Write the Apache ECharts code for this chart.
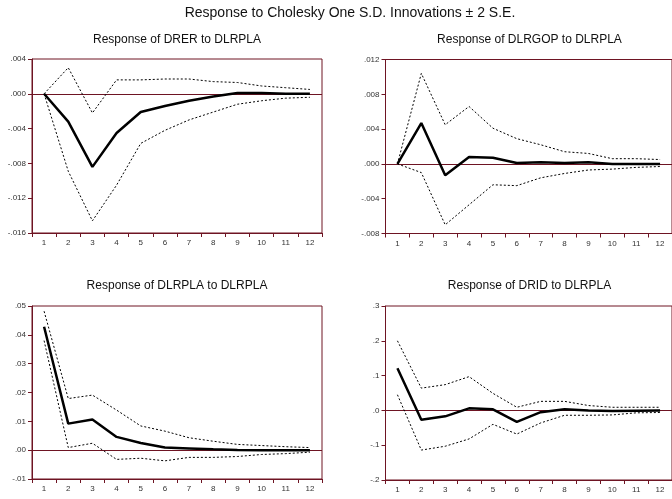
<!DOCTYPE html>
<html>
<head>
<meta charset="utf-8">
<script src="https://cdn.jsdelivr.net/npm/echarts@6/dist/echarts.min.js"></script>
<style>
html,body{margin:0;padding:0;background:#fff;}
#chart{width:672px;height:499px;}
</style>
</head>
<body>
<div id="chart"></div>
<script>
// ---- data ----
const periods = ['1','2','3','4','5','6','7','8','9','10','11','12'];

const mainTitle = 'Response to Cholesky One S.D. Innovations \u00B1 2 S.E.';
const panelTitles = [
  'Response of DRER to DLRPLA',
  'Response of DLRGOP to DLRPLA',
  'Response of DLRPLA to DLRPLA',
  'Response of DRID to DLRPLA'
];

// Panel 1: DRER
const drerResp  = [0, -0.0032, -0.0084, -0.0045, -0.0021, -0.0014, -0.0008, -0.0003, 0.0001, 0.0001, 0.0000, 0.0000];
const drerUpper = [0, 0.0030, -0.0022, 0.0016, 0.0016, 0.0017, 0.0017, 0.0014, 0.0013, 0.0009, 0.0007, 0.0005];
const drerLower = [0, -0.0089, -0.0146, -0.0105, -0.0057, -0.0042, -0.0030, -0.0021, -0.0012, -0.0008, -0.0005, -0.0004];

// Panel 2: DLRGOP
const gopResp  = [0, 0.0047, -0.0013, 0.0008, 0.0007, 0.0001, 0.0002, 0.0001, 0.0002, 0.0000, 0.0000, 0.0000];
const gopUpper = [0, 0.0104, 0.0045, 0.0066, 0.0041, 0.0029, 0.0022, 0.0014, 0.0012, 0.0006, 0.0006, 0.0005];
const gopLower = [0, -0.0010, -0.0070, -0.0047, -0.0024, -0.0025, -0.0016, -0.0011, -0.0007, -0.0006, -0.0004, -0.0003];

// Panel 3: DLRPLA
const plaResp  = [0.0428, 0.0092, 0.0106, 0.0046, 0.0025, 0.0009, 0.0006, 0.0003, 0.0001, 0.0000, 0.0000, 0.0000];
const plaUpper = [0.0482, 0.0179, 0.0191, 0.0139, 0.0084, 0.0066, 0.0043, 0.0031, 0.0020, 0.0016, 0.0012, 0.0009];
const plaLower = [0.0380, 0.0009, 0.0024, -0.0032, -0.0028, -0.0037, -0.0025, -0.0025, -0.0022, -0.0015, -0.0012, -0.0007];

// Panel 4: DRID
const dridResp  = [0.121, -0.027, -0.017, 0.006, 0.003, -0.033, -0.005, 0.003, 0.000, -0.002, -0.001, 0.000];
const dridUpper = [0.200, 0.064, 0.074, 0.097, 0.049, 0.009, 0.026, 0.026, 0.014, 0.009, 0.009, 0.009];
const dridLower = [0.045, -0.114, -0.103, -0.082, -0.040, -0.068, -0.036, -0.014, -0.014, -0.013, -0.007, -0.006];

// y-axis scales (min, max, interval, decimals)
const yScales = [
  [-0.016, 0.004, 0.004, 3],
  [-0.008, 0.012, 0.004, 3],
  [-0.01, 0.05, 0.01, 2],
  [-0.2, 0.3, 0.1, 1]
];

// ---- layout / style ----
const maroon = '#6e1423';
const grids = [
  {left: 32, top: 59, width: 290, height: 174},
  {left: 385.5, top: 59.5, width: 288, height: 174},
  {left: 32, top: 306, width: 290, height: 173},
  {left: 385.5, top: 306, width: 288, height: 174}
];
const panelData = [
  [drerResp, drerUpper, drerLower],
  [gopResp, gopUpper, gopLower],
  [plaResp, plaUpper, plaLower],
  [dridResp, dridUpper, dridLower]
];
const fontFam = '"Liberation Sans", Arial, sans-serif';

function fmt(dec){
  return function(v){
    let s = Number(v).toFixed(dec);
    if (s === '-' + (0).toFixed(dec)) s = (0).toFixed(dec);
    return s.replace(/^(-?)0\./, '$1.');
  };
}

const titles = [{
  text: mainTitle,
  left: 350, top: 6, textAlign: 'center', padding: 0,
  textStyle: {fontSize: 14, fontWeight: 'normal', color: '#111', fontFamily: fontFam}
}];
const subTitleTops = [34, 34, 280, 280];
grids.forEach((g, i) => {
  titles.push({
    text: panelTitles[i],
    left: g.left + g.width / 2, top: subTitleTops[i], textAlign: 'center', padding: 0,
    textStyle: {fontSize: 12, fontWeight: 'normal', color: '#111', fontFamily: fontFam}
  });
});

const xAxes = [], yAxes = [], series = [];
grids.forEach((g, i) => {
  xAxes.push({
    type: 'category', gridIndex: i, data: periods, boundaryGap: true, position: 'bottom',
    axisLine: {show: true, onZero: false, lineStyle: {color: maroon, width: 1}},
    axisTick: {show: true, length: 4, alignWithLabel: false, lineStyle: {color: maroon}},
    axisLabel: {fontSize: 8, color: '#333', margin: 6, fontFamily: fontFam, interval: 0},
    splitLine: {show: false}
  });
  const sc = yScales[i];
  yAxes.push({
    type: 'value', gridIndex: i, min: sc[0], max: sc[1], interval: sc[2], position: 'left',
    axisLine: {show: true, onZero: false, lineStyle: {color: maroon, width: 1}},
    axisTick: {show: true, length: 4, lineStyle: {color: maroon}},
    axisLabel: {fontSize: 8, color: '#333', margin: 6, fontFamily: fontFam, formatter: fmt(sc[3])},
    splitLine: {show: false}
  });
  const [resp, up, lo] = panelData[i];
  const dashed = {color: '#000', width: 1, type: [2, 2]};
  series.push({
    type: 'line', xAxisIndex: i, yAxisIndex: i, data: up, symbol: 'none',
    lineStyle: dashed, silent: true, z: 3
  });
  series.push({
    type: 'line', xAxisIndex: i, yAxisIndex: i, data: lo, symbol: 'none',
    lineStyle: dashed, silent: true, z: 3
  });
  series.push({
    type: 'line', xAxisIndex: i, yAxisIndex: i, data: resp, symbol: 'none',
    lineStyle: {color: '#000', width: 2.5}, silent: true, z: 4,
    markLine: {
      silent: true, symbol: 'none', label: {show: false},
      lineStyle: {color: maroon, width: 1, type: 'solid'},
      data: [{yAxis: 0}], z: 2
    }
  });
});

const chart = echarts.init(document.getElementById('chart'), null, {renderer: 'canvas'});
chart.setOption({
  animation: false,
  backgroundColor: '#fff',
  title: titles,
  grid: grids.map(g => Object.assign({show: true, borderColor: maroon, borderWidth: 1, backgroundColor: 'transparent'}, g)),
  xAxis: xAxes,
  yAxis: yAxes,
  series: series
});
</script>
</body>
</html>
